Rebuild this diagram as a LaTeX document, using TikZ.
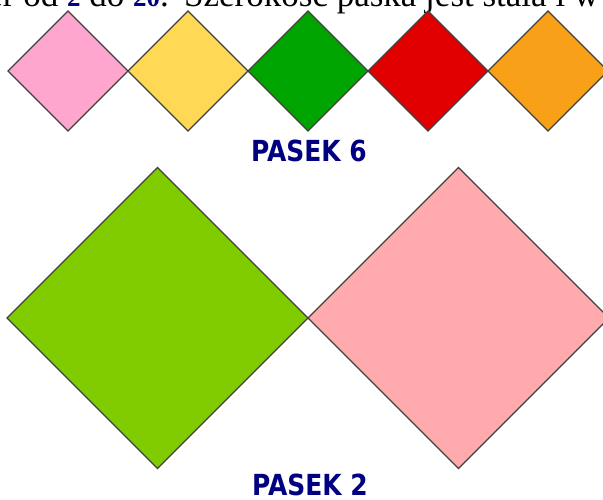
\documentclass[tikz,border=0pt]{standalone}
\usepackage{fontspec}
\setmainfont{Liberation Serif}
\newfontfamily\labfont[FakeStretch=0.86]{DejaVu Sans}
\usetikzlibrary{shapes.geometric}
\definecolor{navyblue}{HTML}{000080}
\definecolor{cpink}{HTML}{FFA6CF}
\definecolor{cyellow}{HTML}{FFD955}
\definecolor{cgreen}{HTML}{00A400}
\definecolor{cred}{HTML}{E00000}
\definecolor{corange}{HTML}{F8A018}
\definecolor{clime}{HTML}{80CC00}
\definecolor{crose}{HTML}{FFABAD}
\newcommand{\bluenum}[1]{{\bfseries\fontsize{27}{27}\selectfont\textcolor{navyblue}{#1}}}
\begin{document}
\begin{tikzpicture}[x=1pt,y=-1pt,
  dia/.style={shape=diamond, draw=black!75, line width=1.1pt, inner sep=0pt, outer sep=0pt},
  small/.style={dia, minimum width=120pt, minimum height=120pt},
  big/.style={dia, minimum width=301pt, minimum height=301pt},
  toptext/.style={inner sep=0pt, font=\fontsize{35}{35}\selectfont},
  lab/.style={text=navyblue, anchor=base, inner sep=0pt, font=\labfont\bfseries\fontsize{29}{29}\selectfont}]
\useasboundingbox (0,0) rectangle (603,499);
\clip (0,0) rectangle (603,499);
\node[toptext, anchor=base east] (txta) at (169,6.5)
  {er od \bluenum{2} do \bluenum{20}.};
\node[toptext, anchor=base west] (txtb) at (184,6.5) {Szerokość paska jest stała i w};
\node[small, fill=cpink]   (d1) at (68,71) {};
\node[small, fill=cyellow] (d2) at (188,71) {};
\node[small, fill=cgreen]  (d3) at (308,71) {};
\node[small, fill=cred]    (d4) at (428,71) {};
\node[small, fill=corange] (d5) at (548,71) {};
\node[lab] (p6) at (309,161.7) {PASEK 6};
\node[big, fill=clime] (b1) at (157.5,318) {};
\node[big, fill=crose] (b2) at (458.5,318) {};
\node[lab] (p2) at (310,495.5) {PASEK 2};
\end{tikzpicture}
\end{document}
